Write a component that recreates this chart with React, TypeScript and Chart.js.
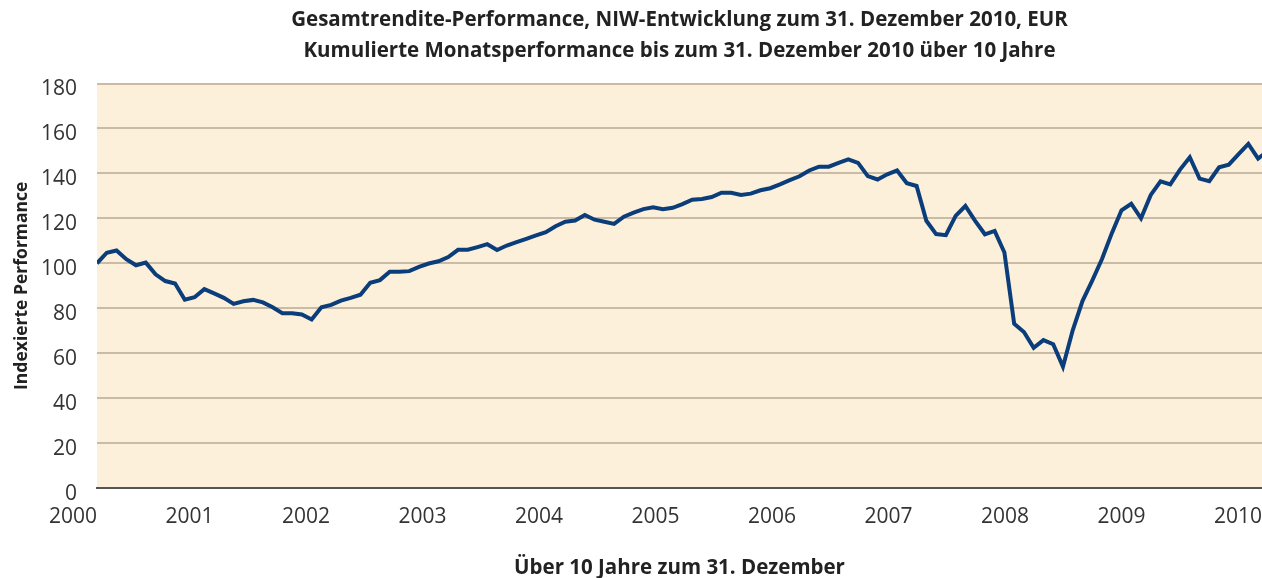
import React, { useEffect, useRef } from "react";
import { Chart, registerables } from "chart.js";

Chart.register(...registerables);

const titleLines = [
  "Gesamtrendite-Performance, NIW-Entwicklung zum 31. Dezember 2010, EUR",
  "Kumulierte Monatsperformance bis zum 31. Dezember 2010 über 10 Jahre",
];
const yAxisTitle = "Indexierte Performance";
const xAxisTitle = "Über 10 Jahre zum 31. Dezember";
const yearLabels = ["2000", "2001", "2002", "2003", "2004", "2005", "2006", "2007", "2008", "2009", "2010"];

// Monthly cumulative performance, index = 100 at start
const values2000 = [100, 104.7, 105.7, 101.8, 99.1, 100.3, 95.1, 92.1, 91.0, 83.8, 84.9, 88.5];
const values2001 = [86.6, 84.6, 81.9, 83.1, 83.7, 82.6, 80.4, 77.8, 77.8, 77.2, 75.0, 80.4];
const values2002 = [81.5, 83.4, 84.6, 86.0, 91.3, 92.5, 96.2, 96.2, 96.5, 98.4, 99.9, 100.9];
const values2003 = [102.8, 106.0, 106.0, 107.2, 108.5, 105.9, 107.9, 109.4, 110.9, 112.4, 113.8, 116.5];
const values2004 = [118.5, 119.0, 121.5, 119.4, 118.5, 117.5, 120.7, 122.5, 124.1, 124.9, 124.1, 124.7];
const values2005 = [126.3, 128.3, 128.6, 129.5, 131.4, 131.4, 130.4, 131.0, 132.5, 133.4, 135.1, 137.0];
const values2006 = [138.7, 141.3, 143.0, 143.0, 144.7, 146.2, 144.7, 138.8, 137.3, 139.6, 141.3, 135.6];
const values2007 = [134.4, 118.9, 113.0, 112.5, 121.1, 125.5, 118.9, 112.9, 114.4, 104.8, 73.1, 69.4];
const values2008 = [62.4, 65.8, 64.0, 54.0, 70.2, 83.2, 92.3, 101.9, 113.3, 123.6, 126.5, 120.0];
const values2009 = [130.4, 136.5, 135.1, 141.7, 147.2, 137.7, 136.5, 142.7, 143.9, 148.6, 153.1, 146.6];
const values2010 = [150.0];

const performance = [
  ...values2000, ...values2001, ...values2002, ...values2003, ...values2004, ...values2005,
  ...values2006, ...values2007, ...values2008, ...values2009, ...values2010,
];

const yTicks = [0, 20, 40, 60, 80, 100, 120, 140, 160, 180];

const plotBackground = {
  id: "plotBackground",
  beforeDraw(chart: any) {
    const { ctx, chartArea } = chart;
    if (!chartArea) return;
    ctx.save();
    ctx.fillStyle = "#FCF0DA";
    ctx.fillRect(chartArea.left, chartArea.top, chartArea.right - chartArea.left, chartArea.bottom - chartArea.top);
    ctx.restore();
  },
};

export default function App() {
  const canvasRef = useRef<HTMLCanvasElement>(null);

  useEffect(() => {
    if (!canvasRef.current) return;
    const chart = new Chart(canvasRef.current, {
      type: "line",
      data: {
        datasets: [
          {
            data: performance.map((v, i) => ({ x: i, y: v })),
            xAxisID: "x",
            yAxisID: "y",
            borderColor: "#0B3D7B",
            borderWidth: 4,
            pointRadius: 0,
            tension: 0,
            fill: false,
          },
        ],
      },
      plugins: [plotBackground],
      options: {
        animation: false,
        responsive: false,
        devicePixelRatio: 1,
        layout: { padding: 0, autoPadding: false },
        plugins: {
          legend: { display: false },
          tooltip: { enabled: false },
          title: {
            display: true,
            text: titleLines,
            fullSize: false,
            color: "#222",
            font: { family: "'Open Sans', sans-serif", size: 20.5, weight: "bold", lineHeight: 1.5 },
            padding: { top: 5, bottom: 17 },
          },
        },
        scales: {
          x: {
            type: "linear",
            position: "bottom",
            min: 0,
            max: 119.4,
            display: false,
          },
          years: {
            type: "linear",
            position: "bottom",
            min: 0,
            max: 120,
            afterFit: (s: any) => {
              s.height = 90;
            },
            grid: { display: false, drawTicks: true, tickLength: 16 },
            border: { display: true, color: "#555", width: 2 },
            ticks: {
              stepSize: 12,
              autoSkip: false,
              maxRotation: 0,
              align: "end",
              padding: 0,
              color: "#333",
              font: { family: "'Open Sans', sans-serif", size: 21 },
              callback: (v: any) => yearLabels[Math.round(Number(v) / 12)] ?? "",
            },
            title: {
              display: true,
              text: xAxisTitle,
              color: "#222",
              font: { family: "'Open Sans', sans-serif", size: 20.5, weight: "bold", lineHeight: 1 },
              padding: { top: 0, bottom: 0 },
            },
          },
          y: {
            min: 0,
            max: 180,
            afterFit: (s: any) => {
              s.width = 97;
            },
            afterBuildTicks: (s: any) => {
              s.ticks = yTicks.map((v) => ({ value: v }));
            },
            grid: { color: "#C9BBA6", lineWidth: 2, drawTicks: false },
            border: { display: false },
            ticks: {
              padding: 20,
              labelOffset: 6,
              color: "#333",
              font: { family: "'Open Sans', sans-serif", size: 21 },
            },
            title: {
              display: true,
              text: yAxisTitle,
              color: "#222",
              font: { family: "'Open Sans', sans-serif", size: 17.5, weight: "bold" },
              padding: { top: 12, bottom: 0 },
            },
          },
        },
      },
    });
    return () => chart.destroy();
  }, []);

  return (
    <div style={{ position: "fixed", left: 0, top: 0, width: 1262, height: 578, background: "#fff" }}>
      <canvas ref={canvasRef} width={1262} height={578} style={{ display: "block" }} />
    </div>
  );
}
